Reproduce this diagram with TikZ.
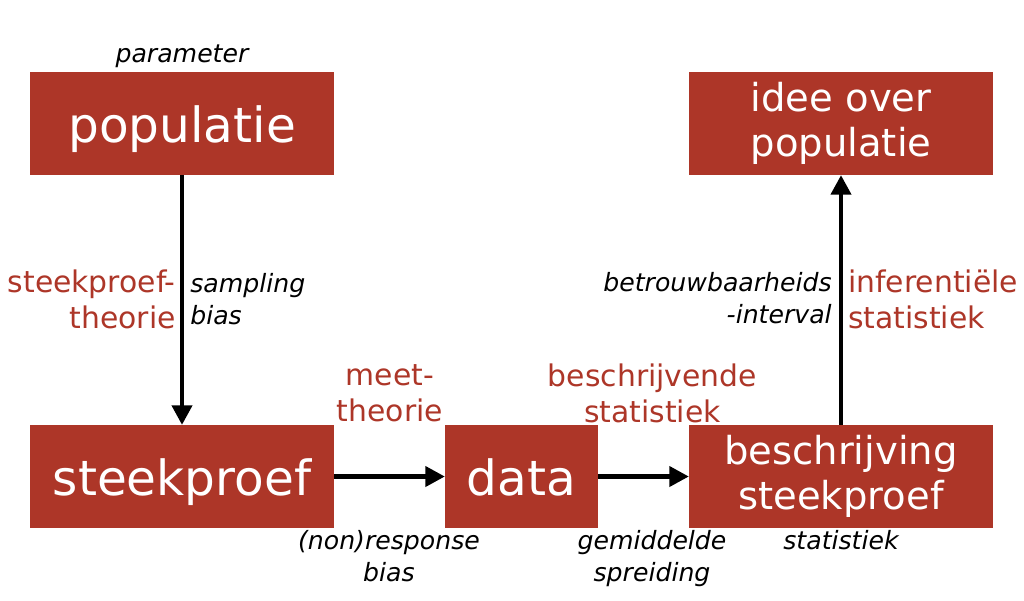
\documentclass[tikz,border=0pt]{standalone}
\usepackage{fontspec}
\setmainfont{DejaVu Sans}
\usepackage{xcolor}
\usepackage{tikz}
\usetikzlibrary{positioning,arrows.meta}

\definecolor{boxred}{RGB}{173,54,40}
\tikzset{
  box/.style={fill=boxred, text=white, inner sep=0pt, outer sep=0pt,
    minimum width=7.6cm, minimum height=2.575cm, align=center},
  bigtext/.style={font=\fontsize{34.5}{40}\selectfont, text height=0.95cm, text depth=0pt},
  midtext/.style={font=\fontsize{27.4}{32}\selectfont},
  redlabel/.style={text=boxred, font=\fontsize{21.2}{25.6}\selectfont, inner sep=0pt},
  notelabel/.style={font=\itshape\fontsize{17.9}{22.8}\selectfont, inner sep=0pt},
  flow/.style={-{Triangle[length=14pt,width=14pt]}, line width=3.5pt}
}

\begin{document}
\begin{tikzpicture}[x=0.025cm, y=-0.025cm]
\useasboundingbox (0,0) rectangle (1024,600);

% Boxes
\node[box, bigtext] (pop) at (182,123.5) {populatie};
\node[box, midtext] (idee) at (841,123.5) {idee over\\populatie};
\node[box, bigtext] (steek) at (182,476.5) {steekproef};
\node[box, bigtext, minimum width=3.825cm] (data) at (521.5,476.5) {data};
\node[box, midtext] (besch) at (841,476.5) {beschrijving\\steekproef};

% Arrows
\draw[flow] (pop) -- (steek);
\draw[flow] (steek) -- (data);
\draw[flow] (data) -- (besch);
\draw[flow] (besch) -- (idee);

% Labels
\node[notelabel, above=0.1cm of pop] (parlabel) {parameter};
\node[redlabel, align=right, anchor=east] (steektheorie) at (176,299) {steekproef-\\theorie};
\node[notelabel, align=left, anchor=west] (sampbias) at (190,299) {sampling\\bias};
\node[redlabel, align=center] (meettheorie) at (390,393) {meet-\\theorie};
\node[notelabel, align=center] (nonresp) at (389,556) {(non)response\\bias};
\node[redlabel, align=center] (beschstat) at (652.5,393) {beschrijvende\\statistiek};
\node[notelabel, align=center] (gemspr) at (652,559) {gemiddelde\\spreiding};
\node[notelabel, below=0.05cm of besch] (statlabel) {statistiek};
\node[notelabel, align=right, anchor=east] (btiv) at (832,298) {betrouwbaarheids\\-interval};
\node[redlabel, align=left, anchor=west] (infstat) at (848,299) {inferentiële\\statistiek};
\end{tikzpicture}
\end{document}
